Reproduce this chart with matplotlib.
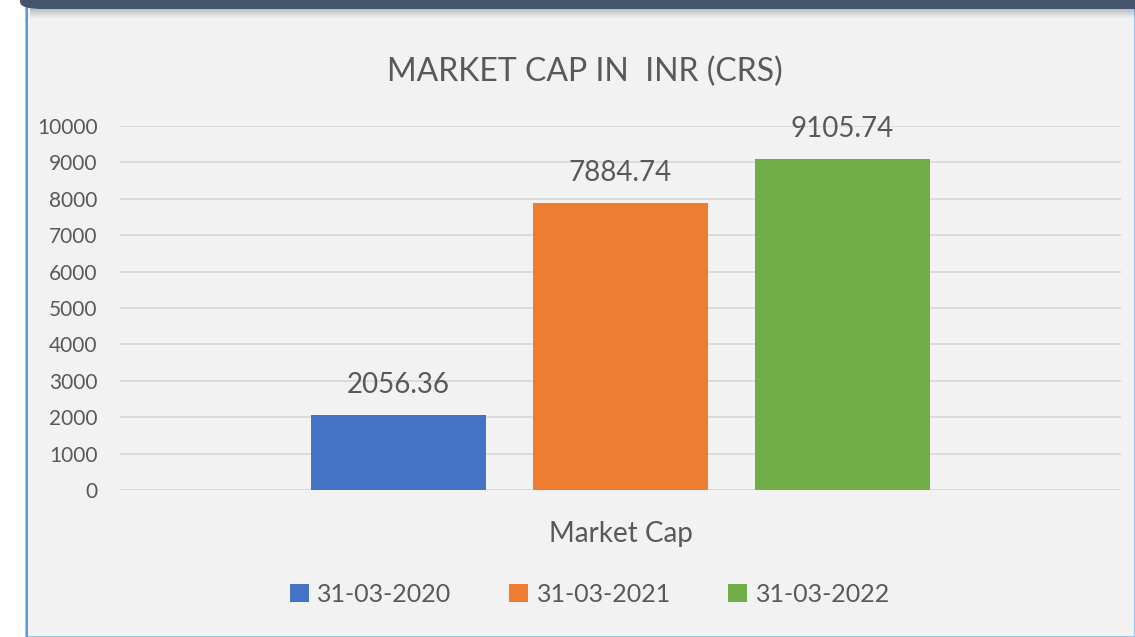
import matplotlib.pyplot as plt
from matplotlib.patches import Rectangle, FancyBboxPatch

# data
categories = ["Market Cap"]
series = ["31-03-2020", "31-03-2021", "31-03-2022"]
values = [2056.36, 7884.74, 9105.74]
colors = ["#4472C4", "#ED7D31", "#70AD47"]
yticks = [0, 1000, 2000, 3000, 4000, 5000, 6000, 7000, 8000, 9000, 10000]

W, H = 1135, 637
txt = "#595959"
plt.rcParams['font.family'] = ['Lato', 'DejaVu Sans']

fig = plt.figure(figsize=(W / 100, H / 100), dpi=100)
fig.patch.set_facecolor("white")

# chart area frame
fig.patches.append(Rectangle((26 / W, 0.5 / H), (W - 26) / W, (H - 1) / H,
                             transform=fig.transFigure, facecolor="#F2F2F2",
                             edgecolor="#9DC3E6", linewidth=1.5, zorder=-3))
fig.patches.append(Rectangle((26 / W, 0), 1.5 / W, 1, transform=fig.transFigure,
                             facecolor="#5B9BD5", edgecolor="none", zorder=-2))
# shadow under top bar
for i in range(10):
    a = 0.35 * (1 - i / 10)
    fig.patches.append(Rectangle((30 / W, 1 - (9 + i) / H), 1, 1 / H,
                                 transform=fig.transFigure, facecolor="#44546A",
                                 alpha=a, edgecolor="none", zorder=-1))
# top dark bar
fig.patches.append(FancyBboxPatch((20 / W, 1 - 9 / H), 1.2, 0.1,
                                  boxstyle="round,pad=0,rounding_size=0.02",
                                  mutation_aspect=H / W,
                                  transform=fig.transFigure, facecolor="#44546A",
                                  edgecolor="none", zorder=-1))

ax = fig.add_axes([120 / W, 1 - 490 / H, (1121 - 120) / W, 364 / H])
ax.set_facecolor("none")
ax.set_zorder(5)

width = 175 / 1001
offsets = [-222 / 1001, 0, 222 / 1001]
for s, v, c, o in zip(series, values, colors, offsets):
    ax.bar(o, v, width=width, color=c, label=s, zorder=3)
    ax.annotate(f"{v:.2f}", (o, v), xytext=(0, 12), textcoords="offset points",
                ha="center", va="bottom", fontsize=20, color=txt)

ax.set_xlim(-0.5, 0.5)
ax.set_ylim(0, 10000)
ax.set_yticks(yticks)
ax.set_xticks([0])
ax.set_xticklabels(categories)
ax.tick_params(axis="y", length=0, pad=16, labelsize=15, labelcolor=txt)
ax.tick_params(axis="x", length=0, pad=22, labelsize=20, labelcolor=txt)
ax.grid(axis="y", color="#D9D9D9", linewidth=1.3, zorder=0)
ax.set_axisbelow(True)
for sp in ax.spines.values():
    sp.set_visible(False)

fig.text(585 / W, 1 - 72 / H, "MARKET CAP IN  INR (CRS)", ha="center", va="center",
         fontsize=23, color=txt)

fig.legend(loc="center", bbox_to_anchor=(590 / W, 1 - 594 / H), ncol=3,
           frameon=False, fontsize=18, labelcolor=txt, handlelength=0.75,
           handleheight=0.75, handletextpad=0.35, columnspacing=2.3)

fig.savefig("out.png", dpi=100, facecolor=fig.get_facecolor())
